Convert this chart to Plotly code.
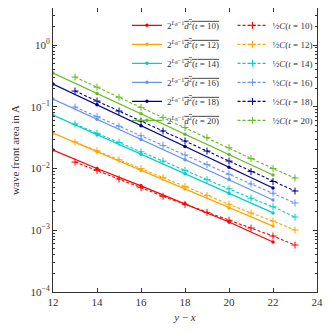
import plotly.graph_objects as go

# x positions (y - x)
x_d2 = [12, 14, 16, 18, 20, 22]
x_c = [13, 14, 15, 16, 17, 18, 19, 20, 21, 22, 23]

t_values = [10, 12, 14, 16, 18, 20]
colors = ["#ff0000", "#ffa500", "#00ced1", "#6495ed", "#00008b", "#66bb22"]

# 2^{L_B-1} * mean d^2(t)
d2_t10 = [0.01995, 0.0100, 0.00525, 0.00269, 0.00136, 0.000646]
d2_t12 = [0.0376, 0.0188, 0.0094, 0.00468, 0.00229, 0.00117]
d2_t14 = [0.0735, 0.0354, 0.01706, 0.00822, 0.00398, 0.00191]
d2_t16 = [0.1337, 0.0630, 0.0296, 0.01393, 0.00661, 0.00309]
d2_t18 = [0.2333, 0.1074, 0.0494, 0.0228, 0.01047, 0.00483]
d2_t20 = [0.352, 0.1648, 0.0769, 0.0360, 0.0168, 0.00785]

# 1/2 C(t)
c_t10 = [0.01274, 0.00933, 0.00676, 0.00490, 0.00355, 0.00263, 0.00195, 0.00145, 0.001086, 0.000807, 0.000577]
c_t12 = [0.0269, 0.01928, 0.01387, 0.0100, 0.00719, 0.00513, 0.00367, 0.00263, 0.00190, 0.00141, 0.00101]
c_t14 = [0.0526, 0.0372, 0.0263, 0.01862, 0.01318, 0.00933, 0.00661, 0.00468, 0.00331, 0.00240, 0.00164]
c_t16 = [0.0991, 0.0692, 0.0484, 0.0339, 0.02366, 0.0166, 0.01156, 0.00807, 0.00562, 0.00398, 0.00276]
c_t18 = [0.1799, 0.1239, 0.0853, 0.0587, 0.0405, 0.0279, 0.0192, 0.01321, 0.00891, 0.00617, 0.00432]
c_t20 = [0.3034, 0.208, 0.1429, 0.0980, 0.0673, 0.0461, 0.0316, 0.0217, 0.01445, 0.0100, 0.00702]

d2_series = [d2_t10, d2_t12, d2_t14, d2_t16, d2_t18, d2_t20]
c_series = [c_t10, c_t12, c_t14, c_t16, c_t18, c_t20]

y_tickvals = [1e-4, 1e-3, 1e-2, 1e-1, 1]
y_ticktext = ["10<sup>−4</sup>", "10<sup>−3</sup>", "10<sup>−2</sup>", "10<sup>−1</sup>", "10<sup>0</sup>"]
x_tickvals = [12, 14, 16, 18, 20, 22, 24]

FONT = "Liberation Serif, DejaVu Serif, serif"
INK = "#333333"

fig = go.Figure()
for t, col, d2 in zip(t_values, colors, d2_series):
    fig.add_trace(go.Scatter(
        x=x_d2, y=d2, mode="lines+markers",
        line=dict(color=col, width=1.3),
        marker=dict(symbol="circle", size=3.5, color=col),
        name=f"2<sup><i>L<sub>B</sub></i>−1</sup>"
             f"<span style='text-decoration:overline'><i>d</i><sup>2</sup>(<i>t</i> = {t})</span>",
        legend="legend",
    ))
for t, col, c in zip(t_values, colors, c_series):
    fig.add_trace(go.Scatter(
        x=x_c, y=c, mode="lines+markers",
        line=dict(color=col, width=1.1, dash="3px,2px"),
        marker=dict(symbol="cross-thin", size=5, line=dict(color=col, width=1)),
        name=f"½<i>C</i>(<i>t</i> = {t})",
        legend="legend2",
    ))

axis_common = dict(
    showgrid=False, zeroline=False, showline=True, linecolor=INK, linewidth=1,
    mirror="ticks", ticks="inside", ticklen=4, tickcolor=INK, automargin=False,
    tickfont=dict(family=FONT, size=11, color=INK),
)

fig.update_xaxes(
    range=[12, 24], tickvals=x_tickvals,
    title=dict(text="<i>y</i> − <i>x</i>", font=dict(family=FONT, size=11, color=INK), standoff=6),
    **axis_common,
)
fig.update_yaxes(
    type="log", range=[-4, 0.6], tickvals=y_tickvals, ticktext=y_ticktext,
    minor=dict(ticks="inside", ticklen=2, dtick="D1", tickcolor=INK, showgrid=False),
    title=dict(text="wave front area in A", font=dict(family=FONT, size=11, color=INK), standoff=8),
    **axis_common,
)

legend_common = dict(
    yanchor="top", xanchor="left", y=0.99, itemwidth=30, tracegroupgap=0,
    font=dict(family=FONT, size=9, color=INK), bgcolor="rgba(255,255,255,0)",
)

# page body adds an 8px offset, so the figure is 324px and shifted margins
fig.update_layout(
    width=324, height=324,
    margin=dict(l=45, r=15, t=0, b=40),
    paper_bgcolor="white", plot_bgcolor="white",
    font=dict(family=FONT, color=INK),
    legend=dict(x=0.28, **legend_common),
    legend2=dict(x=0.68, **legend_common),
)

fig.write_html("out.html")
